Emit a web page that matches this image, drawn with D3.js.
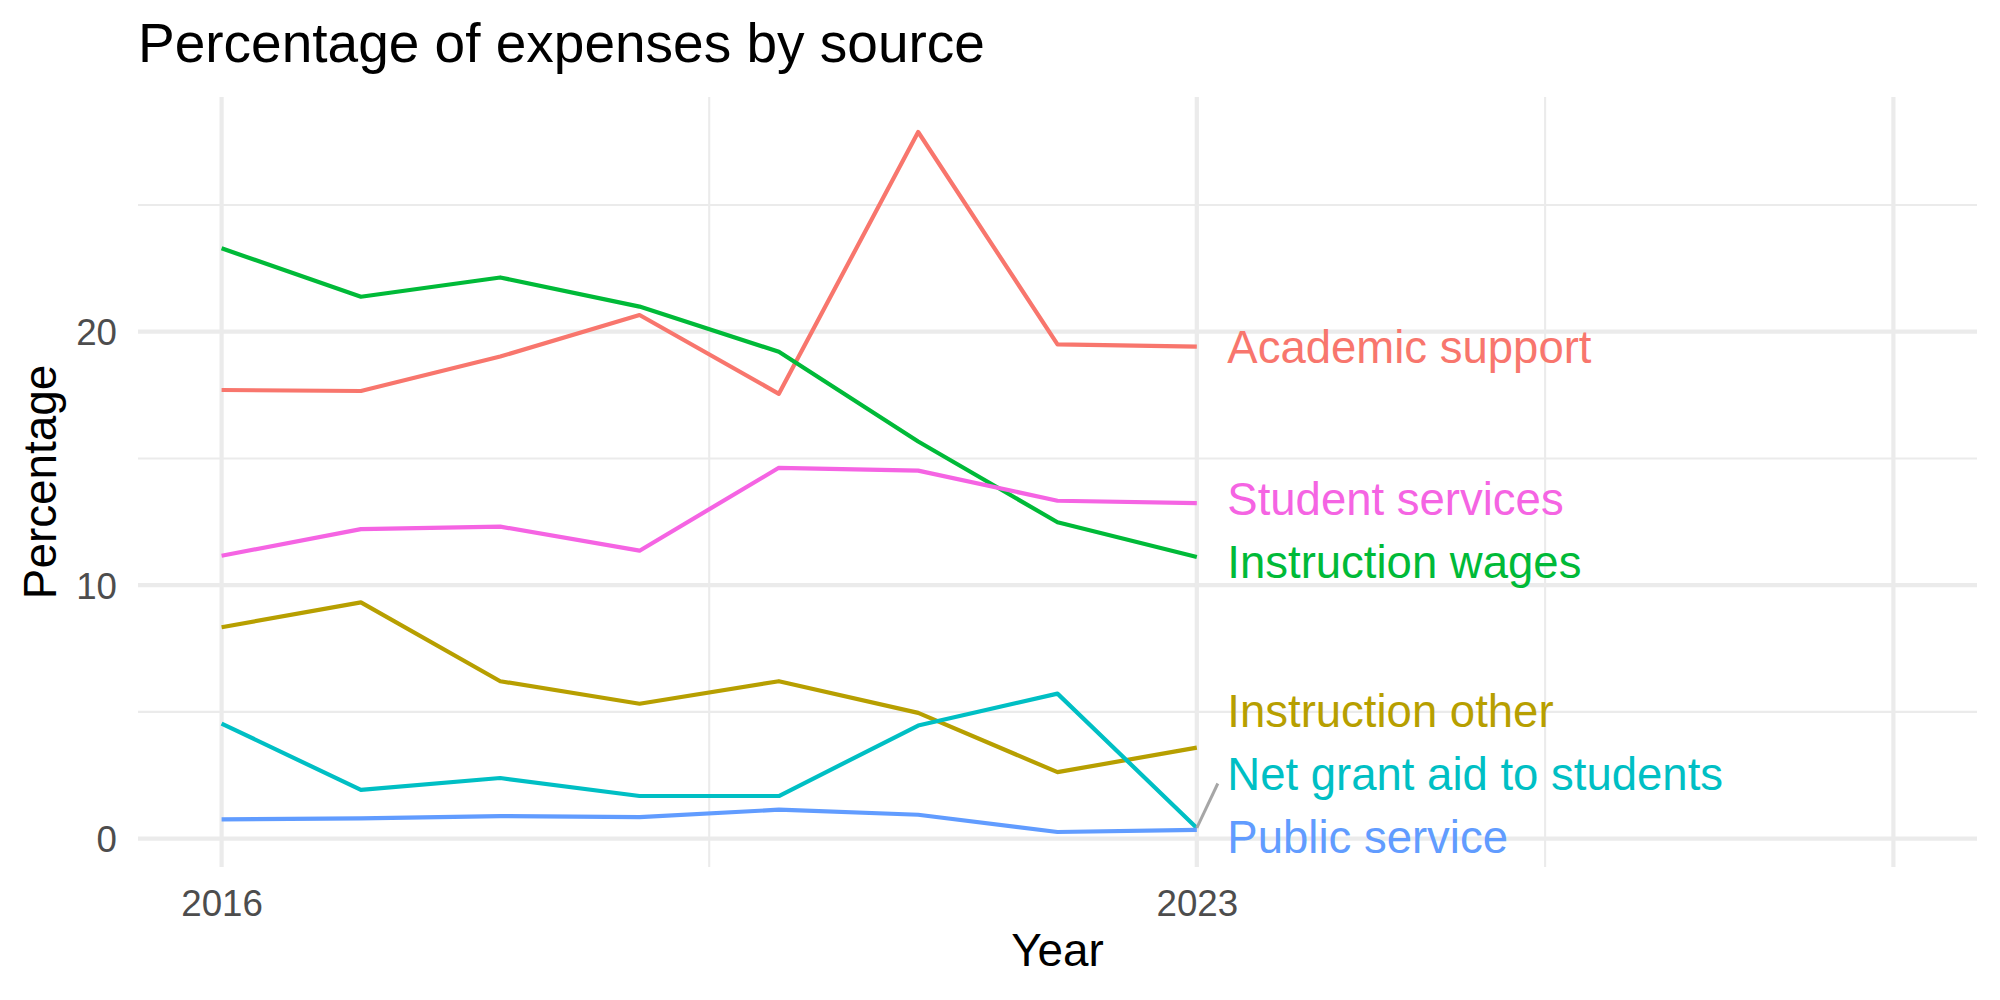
<!DOCTYPE html>
<html>
<head>
<meta charset="utf-8">
<script src="https://cdn.jsdelivr.net/npm/d3@7"></script>
<style>
  html, body { margin: 0; padding: 0; background: #ffffff; }
  svg { display: block; font-family: "Liberation Sans", Arial, Helvetica, sans-serif; }
</style>
</head>
<body>
<svg id="chart" width="2000" height="1000"></svg>
<script>
// ---------------- data ----------------
const years = [2016, 2017, 2018, 2019, 2020, 2021, 2022, 2023];
const categories = ["Academic support", "Instruction other", "Instruction wages",
                    "Net grant aid to students", "Public service", "Student services"];
const academicSupport   = [17.70, 17.66, 19.02, 20.66, 17.55, 27.88, 19.50, 19.41];
const instructionOther  = [8.34, 9.32, 6.21, 5.32, 6.21, 4.96, 2.62, 3.59];
const instructionWages  = [23.29, 21.38, 22.14, 20.99, 19.21, 15.67, 12.48, 11.11];
const netGrantAid       = [4.54, 1.92, 2.39, 1.68, 1.68, 4.46, 5.72, 0.42];
const publicService     = [0.76, 0.80, 0.89, 0.85, 1.14, 0.94, 0.26, 0.34];
const studentServices   = [11.16, 12.21, 12.31, 11.36, 14.63, 14.52, 13.33, 13.24];
const seriesValues = [academicSupport, instructionOther, instructionWages,
                      netGrantAid, publicService, studentServices];
const colors = ["#F8766D", "#B79F00", "#00BA38", "#00BFC4", "#619CFF", "#F564E3"];
const xLimits = [2016, 2028];
const xBreaks = [2016, 2023, 2028];
const xBreakLabels = ["2016", "2023", ""];
const xMinorBreaks = [2019.5, 2025.5];
const yBreaks = [0, 10, 20];
const yMinorBreaks = [5, 15, 25];
const titleText = "Percentage of expenses by source";
const xTitle = "Year";
const yTitle = "Percentage";

// ---------------- layout ----------------
const panel = { left: 138, right: 1977, top: 97, bottom: 867 };
const svg = d3.select("#chart");

const xr = xLimits[1] - xLimits[0];
const x = d3.scaleLinear()
  .domain([xLimits[0] - 0.05 * xr, xLimits[1] + 0.05 * xr])
  .range([panel.left, panel.right]);

const allVals = seriesValues.flat();
const yMin = d3.min(allVals), yMax = d3.max(allVals);
const yr = yMax - yMin;
const y = d3.scaleLinear()
  .domain([yMin - 0.05 * yr, yMax + 0.05 * yr])
  .range([panel.bottom, panel.top]);

const grid = svg.append("g");
const gridColor = "#EBEBEB";
// minor grid
yMinorBreaks.forEach(v => grid.append("line")
  .attr("x1", panel.left).attr("x2", panel.right)
  .attr("y1", y(v)).attr("y2", y(v))
  .attr("stroke", gridColor).attr("stroke-width", 2.1));
xMinorBreaks.forEach(v => grid.append("line")
  .attr("x1", x(v)).attr("x2", x(v))
  .attr("y1", panel.top).attr("y2", panel.bottom)
  .attr("stroke", gridColor).attr("stroke-width", 2.1));
// major grid
yBreaks.forEach(v => grid.append("line")
  .attr("x1", panel.left).attr("x2", panel.right)
  .attr("y1", y(v)).attr("y2", y(v))
  .attr("stroke", gridColor).attr("stroke-width", 4.2));
xBreaks.forEach(v => grid.append("line")
  .attr("x1", x(v)).attr("x2", x(v))
  .attr("y1", panel.top).attr("y2", panel.bottom)
  .attr("stroke", gridColor).attr("stroke-width", 4.2));

// axes (text only, as in theme_minimal)
const xAxis = d3.axisBottom(x).tickValues(xBreaks)
  .tickFormat((d, i) => xBreakLabels[i]).tickSize(0).tickPadding(0);
const gx = svg.append("g").attr("transform", `translate(0, ${panel.bottom})`).call(xAxis);
gx.select(".domain").remove();
gx.selectAll("text").attr("font-size", 36.7).attr("fill", "#4D4D4D")
  .attr("dy", null).attr("y", 49)
  .style("font-family", "'Liberation Sans', Arial, Helvetica, sans-serif");

const yAxis = d3.axisLeft(y).tickValues(yBreaks).tickSize(0).tickPadding(0);
const gy = svg.append("g").attr("transform", `translate(117, 0)`).call(yAxis);
gy.select(".domain").remove();
gy.selectAll("text").attr("font-size", 36.7).attr("fill", "#4D4D4D")
  .attr("x", 0).attr("dy", "0.35em")
  .style("font-family", "'Liberation Sans', Arial, Helvetica, sans-serif");

// lines
const line = d3.line().x((d, i) => x(years[i])).y(d => y(d));
const gl = svg.append("g");
seriesValues.forEach((vals, k) => {
  gl.append("path").datum(vals)
    .attr("d", line)
    .attr("fill", "none")
    .attr("stroke", colors[k])
    .attr("stroke-width", 4.2)
    .attr("stroke-linejoin", "round")
    .attr("stroke-linecap", "butt");
});

// labels with simple repel
const lastYear = years[years.length - 1];
const labelFont = 45.5;
const gap = 63;
const minC = panel.top + 30, maxC = panel.bottom - 30;
let items = categories.map((c, k) => ({
  name: c, color: colors[k], target: y(seriesValues[k][seriesValues[k].length - 1])
})).sort((a, b) => a.target - b.target);

let clusters = items.map(d => ({ items: [d] }));
function center(cl) {
  const m = d3.mean(cl.items, d => d.target);
  const n = cl.items.length;
  let top = m - (n - 1) / 2 * gap;
  let bot = m + (n - 1) / 2 * gap;
  if (top < minC) { bot += minC - top; top = minC; }
  if (bot > maxC) { top -= bot - maxC; bot = maxC; }
  return top;
}
let changed = true;
while (changed) {
  changed = false;
  for (let i = 0; i < clusters.length - 1; i++) {
    const a = clusters[i], b = clusters[i + 1];
    const aLast = center(a) + (a.items.length - 1) * gap;
    const bFirst = center(b);
    if (bFirst - aLast < gap) {
      clusters.splice(i, 2, { items: a.items.concat(b.items) });
      changed = true;
      break;
    }
  }
}
clusters.forEach(cl => {
  const top = center(cl);
  cl.items.forEach((d, j) => d.pos = top + j * gap);
});

const labelX = x(lastYear) + 30.5;
const glab = svg.append("g");
items.forEach(d => {
  if (Math.abs(d.pos - d.target) > 45) {
    const s = Math.sign(d.target - d.pos);
    glab.append("line")
      .attr("x1", x(lastYear)).attr("y1", d.target)
      .attr("x2", labelX - 9.5).attr("y2", d.pos + s * 9.5)
      .attr("stroke", "#A6A6A6").attr("stroke-width", 3);
  }
  glab.append("text")
    .attr("x", labelX).attr("y", d.pos + 16)
    .attr("font-size", labelFont)
    .attr("fill", d.color)
    .text(d.name);
});

// titles
svg.append("text").attr("x", 138).attr("y", 62)
  .attr("font-size", 55).attr("fill", "#000").text(titleText);
svg.append("text").attr("x", (panel.left + panel.right) / 2).attr("y", 966)
  .attr("text-anchor", "middle").attr("font-size", 45.8).attr("fill", "#000").text(xTitle);
svg.append("text")
  .attr("transform", `translate(56, ${(panel.top + panel.bottom) / 2}) rotate(-90)`)
  .attr("text-anchor", "middle").attr("font-size", 45.8).attr("fill", "#000").text(yTitle);
</script>
</body>
</html>
